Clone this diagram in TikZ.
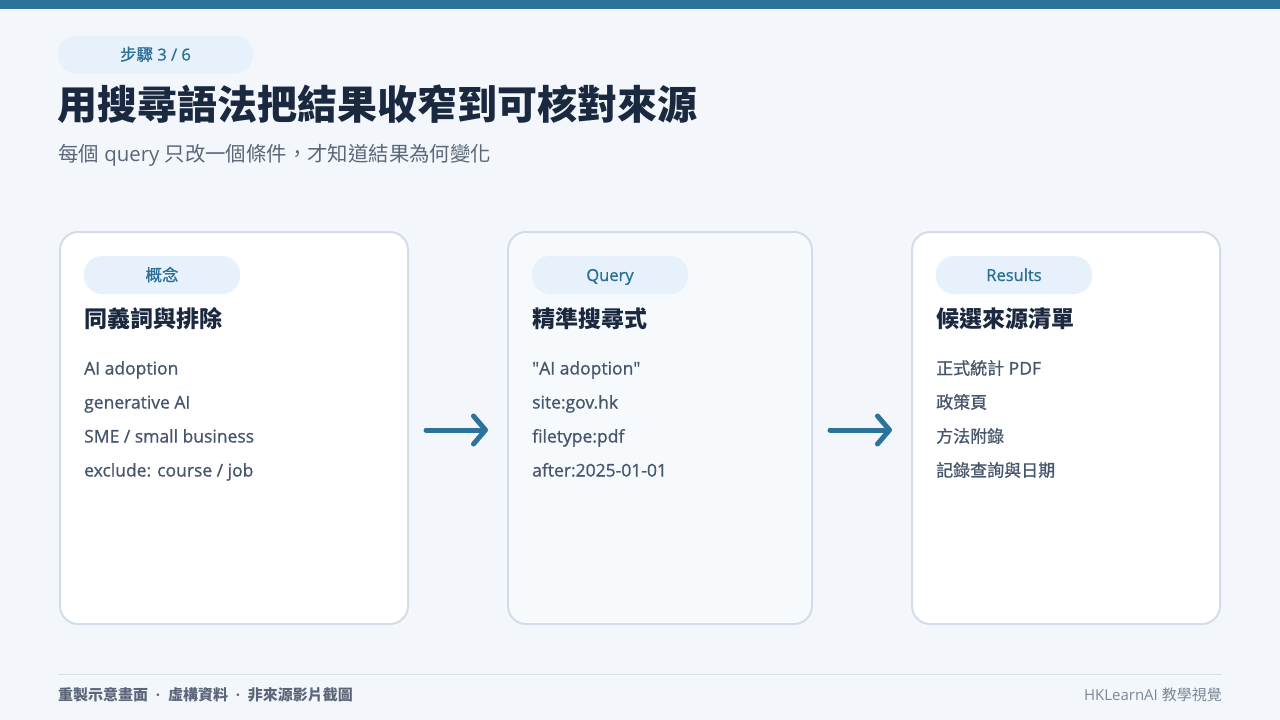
\documentclass[tikz,border=0pt]{standalone}
\usepackage{fontspec}
\setmainfont{Open Sans}
\newfontfamily\osmed[FakeBold=0.9]{Open Sans}
\newfontfamily\cjk{Noto Sans CJK TC}
\newfontfamily\cjkmed[FakeBold=0.9]{Noto Sans CJK TC}
\usetikzlibrary{arrows.meta}
\definecolor{bgc}{HTML}{F3F7FB}
\definecolor{barc}{HTML}{2B739B}
\definecolor{pillc}{HTML}{E7F1FC}
\definecolor{pilltxt}{HTML}{2A6F97}
\definecolor{titlec}{HTML}{1B2940}
\definecolor{subc}{HTML}{5B6779}
\definecolor{borderc}{HTML}{D3DCE8}
\definecolor{bodyc}{HTML}{46566C}
\definecolor{footl}{HTML}{D8DFE8}
\definecolor{footr}{HTML}{7B8797}
\definecolor{midfill}{HTML}{F7FAFD}
\tikzset{
  card/.style={draw=borderc, line width=2pt, rounded corners=18pt, fill=white,
    minimum height=392pt, inner sep=0pt},
  pill/.style={fill=pillc, rounded corners=18pt, minimum height=38pt, inner sep=0pt,
    text height=12pt, text depth=0pt,
    text=pilltxt, font=\osmed\fontsize{16.5}{18}\selectfont},
  head/.style={anchor=base west, inner sep=0pt, text=titlec, font=\cjk\bfseries\fontsize{23}{26}\selectfont},
  item/.style={anchor=base west, inner sep=0pt, text=bodyc, font=\osmed\fontsize{17.5}{20}\selectfont},
  citem/.style={anchor=base west, inner sep=0pt, text=bodyc, font=\cjkmed\fontsize{17}{20}\selectfont},
  flow/.style={draw=barc, line width=5pt, line cap=round,
    -{Straight Barb[length=12pt,width=28pt,line cap=round,line join=round]}}
}
\begin{document}
\begin{tikzpicture}[x=1pt,y=-1pt]
\fill[bgc] (0,0) rectangle (1280,720);
\useasboundingbox (0,0) rectangle (1280,720);
\fill[barc] (0,0) rectangle (1280,9);
% step pill
\node[pill, minimum width=195pt] (step) at (155.5,54.5) {{\cjkmed 步驟} 3 / 6};
% title
\node[anchor=base west, inner sep=0pt, text=titlec, font=\cjk\bfseries\fontsize{40}{44}\selectfont] (title) at (57,119) {用搜尋語法把結果收窄到可核對來源};
\node[anchor=base west, inner sep=0pt, text=subc, font=\fontsize{20.4}{24}\selectfont] (sub) at (58,161) {{\cjk 每個} query {\cjk 只改一個條件，才知道結果為何變化}};
% cards
\node[card, minimum width=348pt] (c1) at (234,428) {};
\node[card, minimum width=304pt, fill=midfill] (c2) at (660,428) {};
\node[card, minimum width=308pt] (c3) at (1066,428) {};
% card 1
\node[pill, minimum width=156pt] (p1) at (162,275) {{\cjkmed 概念}};
\node[head] (h1) at (84,327) {同義詞與排除};
\node[item] (a1) at (84,374.5) {AI adoption};
\node[item] (a2) at (84,408.5) {generative AI};
\node[item] (a3) at (84,442.5) {SME / small business};
\node[item] (a4) at (84,476.5) {exclude: course / job};
% card 2
\node[pill, minimum width=156pt] (p2) at (610,275) {Query};
\node[head] (h2) at (532,327) {精準搜尋式};
\node[item] (b1) at (532,374.5) {\textquotedbl AI adoption\textquotedbl};
\node[item] (b2) at (532,408.5) {site:gov.hk};
\node[item] (b3) at (532,442.5) {filetype:pdf};
\node[item] (b4) at (532,476.5) {after:2025-01-01};
% card 3
\node[pill, minimum width=156pt] (p3) at (1014,275) {Results};
\node[head] (h3) at (936,327) {候選來源清單};
\node[item] (d1) at (936,374.5) {{\cjkmed\fontsize{17}{20}\selectfont 正式統計} PDF};
\node[citem] (d2) at (936,408.5) {政策頁};
\node[citem] (d3) at (936,442.5) {方法附錄};
\node[citem] (d4) at (936,476.5) {記錄查詢與日期};
% arrows
\draw[flow, shorten <=17pt, shorten >=19pt] ([yshift=-2pt]c1.east) -- ([yshift=-2pt]c2.west);
\draw[flow, shorten <=17pt, shorten >=19pt] ([yshift=-2pt]c2.east) -- ([yshift=-2pt]c3.west);
% footer
\coordinate (fl) at (58,674);
\coordinate (fr) at (1222,674);
\draw[footl, line width=1pt] (fl) -- (fr);
\node[anchor=base west, inner sep=0pt, text=subc, font=\bfseries\fontsize{15}{18}\selectfont] (foot1) at (58,700.5) {{\cjk\bfseries 重製示意畫面}\ \ ·\ \ {\cjk\bfseries 虛構資料}\ \ ·\ \ {\cjk\bfseries 非來源影片截圖}};
\node[anchor=base east, inner sep=0pt, text=footr, font=\fontsize{15}{18}\selectfont] (foot2) at (1222,700.5) {HKLearnAI {\cjk 教學視覺}};
\end{tikzpicture}
\end{document}
